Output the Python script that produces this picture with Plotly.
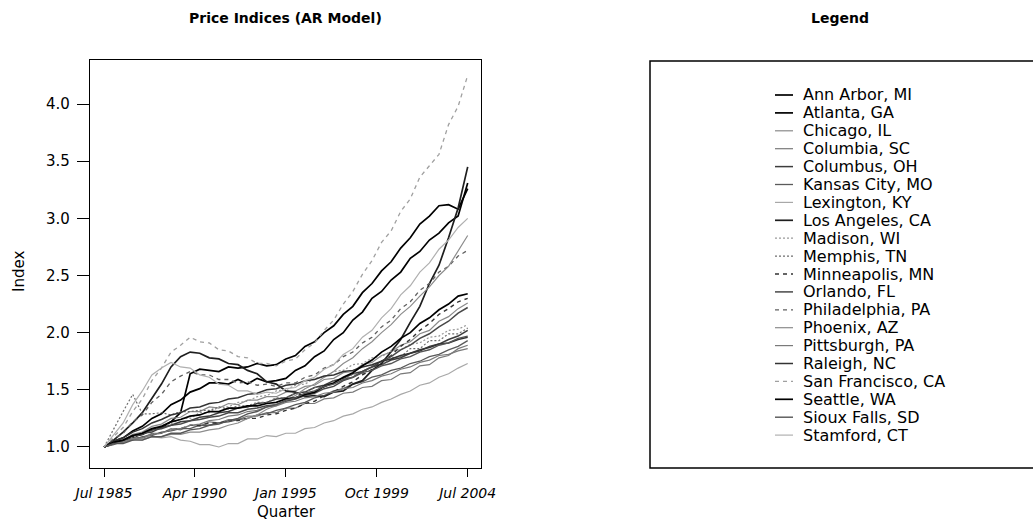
import plotly.graph_objects as go

# Quarterly house price indices, Jul 1985 = 1.0, sampled every second quarter
quarter_index = list(range(0, 77, 2))
tick_vals = [0, 19, 38, 57, 76]
tick_text = ["Jul 1985", "Apr 1990", "Jan 1995", "Oct 1999", "Jul 2004"]

cities = [
    "Ann Arbor, MI", "Atlanta, GA", "Chicago, IL", "Columbia, SC", "Columbus, OH",
    "Kansas City, MO", "Lexington, KY", "Los Angeles, CA", "Madison, WI", "Memphis, TN",
    "Minneapolis, MN", "Orlando, FL", "Philadelphia, PA", "Phoenix, AZ", "Pittsburgh, PA",
    "Raleigh, NC", "San Francisco, CA", "Seattle, WA", "Sioux Falls, SD", "Stamford, CT",
]

ann_arbor = [1.00, 1.03, 1.05, 1.09, 1.11, 1.15, 1.17, 1.22, 1.30, 1.64, 1.68, 1.67, 1.66, 1.70, 1.69, 1.70, 1.73, 1.71, 1.72, 1.77,
             1.80, 1.88, 1.92, 2.00, 2.06, 2.16, 2.23, 2.35, 2.43, 2.54, 2.62, 2.74, 2.83, 2.95, 3.02, 3.11, 3.12, 3.08, 3.26]
atlanta = [1.00, 1.05, 1.08, 1.14, 1.18, 1.25, 1.29, 1.37, 1.41, 1.48, 1.51, 1.56, 1.56, 1.55, 1.59, 1.55, 1.60, 1.57, 1.58, 1.60,
           1.67, 1.71, 1.79, 1.84, 1.94, 2.00, 2.11, 2.18, 2.30, 2.36, 2.46, 2.53, 2.65, 2.71, 2.81, 2.87, 2.96, 3.02, 3.31]
chicago = [1.00, 1.04, 1.06, 1.11, 1.13, 1.18, 1.20, 1.25, 1.26, 1.31, 1.31, 1.35, 1.34, 1.38, 1.37, 1.41, 1.41, 1.44, 1.44, 1.48,
           1.49, 1.53, 1.54, 1.59, 1.60, 1.65, 1.66, 1.72, 1.74, 1.80, 1.83, 1.89, 1.92, 1.99, 2.02, 2.10, 2.14, 2.21, 2.26]
columbia = [1.00, 1.03, 1.04, 1.08, 1.08, 1.12, 1.12, 1.16, 1.15, 1.19, 1.18, 1.22, 1.21, 1.24, 1.24, 1.27, 1.27, 1.30, 1.30, 1.34,
            1.34, 1.38, 1.38, 1.42, 1.43, 1.47, 1.48, 1.52, 1.53, 1.58, 1.59, 1.64, 1.65, 1.71, 1.72, 1.78, 1.80, 1.86, 1.89]
columbus = [1.00, 1.03, 1.06, 1.08, 1.12, 1.13, 1.17, 1.19, 1.22, 1.23, 1.26, 1.27, 1.30, 1.31, 1.34, 1.35, 1.38, 1.39, 1.42, 1.43,
            1.47, 1.48, 1.52, 1.54, 1.58, 1.60, 1.64, 1.66, 1.70, 1.72, 1.76, 1.78, 1.82, 1.84, 1.88, 1.90, 1.94, 1.97, 2.02]
kansas_city = [1.00, 1.02, 1.05, 1.06, 1.09, 1.10, 1.13, 1.14, 1.16, 1.16, 1.19, 1.19, 1.21, 1.22, 1.24, 1.25, 1.28, 1.29, 1.32, 1.34,
               1.37, 1.39, 1.43, 1.45, 1.49, 1.51, 1.55, 1.57, 1.61, 1.63, 1.67, 1.69, 1.73, 1.75, 1.79, 1.81, 1.85, 1.88, 1.93]
lexington = [1.00, 1.04, 1.04, 1.07, 1.06, 1.09, 1.08, 1.09, 1.06, 1.05, 1.02, 1.02, 1.00, 1.03, 1.03, 1.07, 1.07, 1.10, 1.09, 1.12,
             1.12, 1.16, 1.17, 1.21, 1.23, 1.27, 1.29, 1.33, 1.35, 1.39, 1.42, 1.46, 1.49, 1.54, 1.56, 1.61, 1.64, 1.69, 1.73]
los_angeles = [1.00, 1.06, 1.13, 1.21, 1.30, 1.42, 1.55, 1.70, 1.79, 1.83, 1.82, 1.78, 1.77, 1.73, 1.72, 1.67, 1.64, 1.57, 1.55, 1.49,
               1.48, 1.44, 1.45, 1.44, 1.48, 1.49, 1.55, 1.58, 1.67, 1.73, 1.84, 1.94, 2.09, 2.23, 2.43, 2.59, 2.83, 3.09, 3.45]
madison = [1.00, 1.03, 1.07, 1.08, 1.13, 1.14, 1.19, 1.20, 1.25, 1.25, 1.30, 1.30, 1.35, 1.35, 1.39, 1.40, 1.44, 1.45, 1.49, 1.50,
           1.54, 1.55, 1.60, 1.61, 1.66, 1.67, 1.72, 1.73, 1.78, 1.79, 1.84, 1.85, 1.90, 1.91, 1.96, 1.97, 2.02, 2.03, 2.07]
memphis = [1.00, 1.16, 1.31, 1.46, 1.29, 1.29, 1.30, 1.28, 1.31, 1.31, 1.32, 1.32, 1.35, 1.33, 1.36, 1.36, 1.39, 1.39, 1.43, 1.43,
           1.47, 1.48, 1.52, 1.52, 1.58, 1.58, 1.64, 1.64, 1.71, 1.71, 1.78, 1.79, 1.86, 1.86, 1.93, 1.93, 1.99, 1.99, 2.04]
minneapolis = [1.00, 1.03, 1.04, 1.07, 1.08, 1.11, 1.12, 1.15, 1.16, 1.19, 1.19, 1.21, 1.21, 1.23, 1.23, 1.25, 1.25, 1.28, 1.29, 1.32,
               1.34, 1.38, 1.40, 1.45, 1.48, 1.53, 1.57, 1.63, 1.68, 1.75, 1.80, 1.88, 1.94, 2.02, 2.08, 2.16, 2.21, 2.27, 2.30]
orlando = [1.00, 1.04, 1.06, 1.10, 1.11, 1.15, 1.16, 1.19, 1.20, 1.23, 1.24, 1.26, 1.27, 1.30, 1.30, 1.33, 1.34, 1.36, 1.37, 1.40,
           1.42, 1.45, 1.47, 1.51, 1.53, 1.58, 1.61, 1.66, 1.70, 1.75, 1.79, 1.85, 1.89, 1.95, 1.99, 2.05, 2.10, 2.17, 2.22]
philadelphia = [1.00, 1.07, 1.12, 1.22, 1.28, 1.39, 1.46, 1.57, 1.62, 1.66, 1.63, 1.63, 1.59, 1.59, 1.56, 1.57, 1.54, 1.55, 1.53, 1.56,
                1.56, 1.61, 1.63, 1.69, 1.72, 1.79, 1.83, 1.91, 1.96, 2.05, 2.11, 2.21, 2.27, 2.37, 2.43, 2.53, 2.58, 2.67, 2.72]
phoenix = [1.00, 1.03, 1.04, 1.07, 1.07, 1.09, 1.09, 1.11, 1.11, 1.13, 1.13, 1.15, 1.16, 1.19, 1.21, 1.25, 1.28, 1.33, 1.36, 1.41,
           1.45, 1.51, 1.55, 1.61, 1.66, 1.73, 1.78, 1.86, 1.92, 2.00, 2.07, 2.16, 2.23, 2.32, 2.40, 2.50, 2.58, 2.71, 2.85]
pittsburgh = [1.00, 1.03, 1.04, 1.07, 1.08, 1.11, 1.12, 1.15, 1.16, 1.19, 1.20, 1.23, 1.24, 1.27, 1.28, 1.31, 1.32, 1.35, 1.36, 1.39,
              1.40, 1.43, 1.44, 1.47, 1.48, 1.51, 1.52, 1.56, 1.58, 1.62, 1.64, 1.68, 1.70, 1.74, 1.76, 1.80, 1.81, 1.84, 1.86]
raleigh = [1.00, 1.05, 1.08, 1.13, 1.16, 1.21, 1.24, 1.28, 1.30, 1.34, 1.35, 1.38, 1.39, 1.42, 1.43, 1.46, 1.47, 1.50, 1.51, 1.54,
           1.55, 1.58, 1.59, 1.62, 1.63, 1.66, 1.67, 1.70, 1.72, 1.75, 1.77, 1.80, 1.82, 1.85, 1.87, 1.90, 1.91, 1.94, 1.96]
san_francisco = [1.00, 1.09, 1.17, 1.31, 1.42, 1.58, 1.69, 1.83, 1.89, 1.96, 1.92, 1.91, 1.85, 1.84, 1.79, 1.78, 1.73, 1.73, 1.71, 1.75,
                 1.77, 1.85, 1.91, 2.02, 2.11, 2.25, 2.36, 2.51, 2.63, 2.79, 2.89, 3.06, 3.17, 3.36, 3.46, 3.56, 3.82, 3.98, 4.25]
seattle = [1.00, 1.04, 1.06, 1.10, 1.12, 1.16, 1.18, 1.22, 1.24, 1.27, 1.28, 1.31, 1.31, 1.34, 1.34, 1.36, 1.36, 1.38, 1.39, 1.42,
           1.43, 1.46, 1.48, 1.53, 1.56, 1.61, 1.65, 1.71, 1.76, 1.83, 1.88, 1.95, 2.00, 2.08, 2.13, 2.20, 2.25, 2.32, 2.34]
sioux_falls = [1.00, 1.03, 1.03, 1.06, 1.06, 1.09, 1.09, 1.12, 1.12, 1.15, 1.16, 1.19, 1.20, 1.23, 1.25, 1.29, 1.31, 1.35, 1.37, 1.41,
               1.43, 1.47, 1.49, 1.53, 1.55, 1.59, 1.61, 1.65, 1.67, 1.71, 1.73, 1.77, 1.79, 1.83, 1.85, 1.89, 1.91, 1.95, 1.97]
stamford = [1.00, 1.11, 1.21, 1.37, 1.49, 1.63, 1.69, 1.74, 1.70, 1.69, 1.63, 1.61, 1.55, 1.54, 1.49, 1.49, 1.46, 1.48, 1.47, 1.51,
            1.52, 1.58, 1.61, 1.68, 1.72, 1.81, 1.86, 1.96, 2.02, 2.13, 2.21, 2.33, 2.41, 2.53, 2.61, 2.73, 2.81, 2.92, 3.00]

series = [ann_arbor, atlanta, chicago, columbia, columbus, kansas_city, lexington, los_angeles,
          madison, memphis, minneapolis, orlando, philadelphia, phoenix, pittsburgh, raleigh,
          san_francisco, seattle, sioux_falls, stamford]

# Grey-scale line styles, one per city
line_colors = ["#000000", "#000000", "#8a8a8a", "#7a7a7a", "#3c3c3c", "#5a5a5a", "#a8a8a8", "#1e1e1e",
               "#9a9a9a", "#6e6e6e", "#333333", "#484848", "#606060", "#8c8c8c", "#7a7a7a", "#333333",
               "#a0a0a0", "#000000", "#555555", "#b0b0b0"]
line_dashes = ["solid", "solid", "solid", "solid", "solid", "solid", "solid", "solid",
               "2px,2px", "2px,2px", "4px,4px", "solid", "4px,4px", "solid", "solid", "solid",
               "4px,4px", "solid", "solid", "solid"]
line_widths = [1.7, 1.7, 1.2, 1.2, 1.5, 1.3, 1.2, 1.7, 1.2, 1.2, 1.4, 1.5, 1.3, 1.2, 1.2, 1.5,
               1.3, 1.7, 1.4, 1.2]

W, H = 1033, 528
FONT = "DejaVu Sans"

fig = go.Figure()

for name, vals, col, dash, lw in zip(cities, series, line_colors, line_dashes, line_widths):
    fig.add_trace(go.Scatter(
        x=quarter_index, y=vals, mode="lines", name=name,
        line=dict(color=col, width=lw, dash=dash),
        showlegend=False, hoverinfo="skip", xaxis="x", yaxis="y",
    ))

# Legend panel drawn on its own pixel-scaled axes
leg_left, leg_top, leg_bottom = 650, 61, 468
row0, row_step = 95, 17.9
sample_x0, sample_x1, text_x = 775, 793, 801
for i, (name, col, dash, lw) in enumerate(zip(cities, line_colors, line_dashes, line_widths)):
    row = row0 + i * row_step
    fig.add_trace(go.Scatter(
        x=[sample_x0, sample_x1], y=[row, row], mode="lines",
        line=dict(color=col, width=lw, dash=dash),
        showlegend=False, hoverinfo="skip", xaxis="x2", yaxis="y2",
    ))
    fig.add_annotation(x=text_x, y=row, xref="x2", yref="y2", text=name, showarrow=False,
                       xanchor="left", yanchor="middle",
                       font=dict(family=FONT, size=16, color="#000000"))

fig.add_shape(type="rect", xref="paper", yref="paper",
              x0=leg_left / W, x1=1.05, y0=(H - leg_bottom) / H, y1=(H - leg_top) / H,
              line=dict(color="#000000", width=1.5), fillcolor="rgba(0,0,0,0)")

# Panel titles and axis titles
fig.add_annotation(x=285.5 / W, y=(H - 18) / H, xref="paper", yref="paper",
                   text="<b>Price Indices (AR Model)</b>", showarrow=False,
                   xanchor="center", yanchor="middle", font=dict(family=FONT, size=14, color="#000"))
fig.add_annotation(x=840 / W, y=(H - 18) / H, xref="paper", yref="paper",
                   text="<b>Legend</b>", showarrow=False,
                   xanchor="center", yanchor="middle", font=dict(family=FONT, size=14, color="#000"))
fig.add_annotation(x=286 / W, y=(H - 512) / H, xref="paper", yref="paper",
                   text="Quarter", showarrow=False,
                   xanchor="center", yanchor="middle", font=dict(family=FONT, size=15, color="#000"))
fig.add_annotation(x=19 / W, y=(H - 272) / H, xref="paper", yref="paper",
                   text="Index", showarrow=False, textangle=-90,
                   xanchor="center", yanchor="middle", font=dict(family=FONT, size=15, color="#000"))

plot_l, plot_r, plot_t, plot_b = 90, 481, 60, 468

fig.update_layout(
    width=W, height=H,
    margin=dict(l=0, r=0, t=0, b=0, autoexpand=False),
    paper_bgcolor="white", plot_bgcolor="white",
    font=dict(family=FONT, color="#000000"),
    xaxis=dict(
        domain=[plot_l / W, plot_r / W], range=[-2.93, 78.78],
        tickmode="array", tickvals=tick_vals,
        ticktext=["<i>%s</i>" % t for t in tick_text],
        ticks="outside", ticklen=8, tickwidth=1.2, tickcolor="#000",
        showline=True, mirror=True, linecolor="#000", linewidth=1.4,
        showgrid=False, zeroline=False, automargin=False,
        tickfont=dict(family=FONT, size=14, color="#000"),
        ticklabelstandoff=4,
    ),
    yaxis=dict(
        domain=[(H - plot_b) / H, (H - plot_t) / H], range=[0.816, 4.385],
        tickmode="linear", tick0=1.0, dtick=0.5, tickformat=".1f",
        ticks="outside", ticklen=12, tickwidth=1.2, tickcolor="#000",
        showline=True, mirror=True, linecolor="#000", linewidth=1.4,
        showgrid=False, zeroline=False, automargin=False,
        tickfont=dict(family=FONT, size=15, color="#000"),
        ticklabelstandoff=4,
    ),
    xaxis2=dict(domain=[leg_left / W, 1.0], range=[leg_left, W], visible=False,
                fixedrange=True, automargin=False),
    yaxis2=dict(domain=[(H - leg_bottom) / H, (H - leg_top) / H], range=[leg_bottom, leg_top],
                visible=False, fixedrange=True, automargin=False),
    showlegend=False,
)

fig.write_html("out.html")
